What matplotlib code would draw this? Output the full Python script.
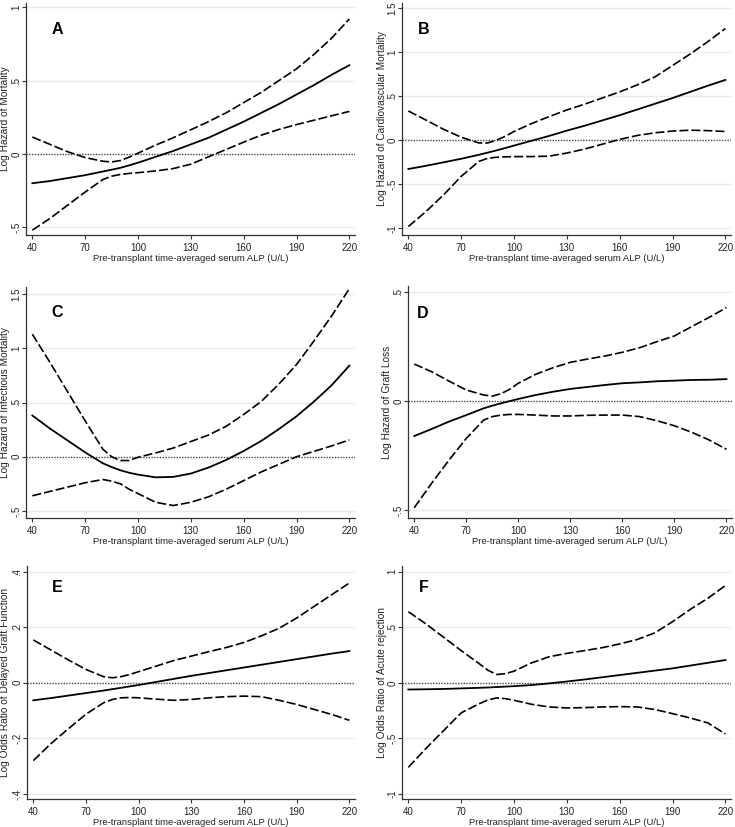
import matplotlib
matplotlib.use("Agg")
import matplotlib.pyplot as plt

plt.rcParams['font.family'] = ['Liberation Sans', 'DejaVu Sans']

W, H = 735, 827

alp = [40, 50, 60, 70, 80, 85, 90, 95, 100, 110, 120, 130, 140, 150, 160, 170, 180, 190, 200, 210, 220]

# Panel A: Mortality
a_est = [-0.20, -0.185, -0.165, -0.145, -0.12, -0.108, -0.095, -0.078, -0.06, -0.02, 0.02, 0.065, 0.11, 0.165, 0.22, 0.28, 0.34, 0.405, 0.47, 0.54, 0.605]
a_hi = [0.115, 0.065, 0.015, -0.025, -0.05, -0.055, -0.045, -0.022, 0.005, 0.06, 0.11, 0.165, 0.22, 0.28, 0.35, 0.42, 0.50, 0.58, 0.68, 0.79, 0.92]
a_lo = [-0.52, -0.44, -0.35, -0.26, -0.175, -0.152, -0.14, -0.133, -0.128, -0.116, -0.10, -0.07, -0.02, 0.03, 0.08, 0.128, 0.167, 0.20, 0.23, 0.26, 0.29]

# Panel B: Cardiovascular mortality
b_est = [-0.326, -0.29, -0.25, -0.21, -0.165, -0.14, -0.115, -0.088, -0.06, -0.005, 0.05, 0.11, 0.165, 0.225, 0.285, 0.35, 0.415, 0.48, 0.55, 0.62, 0.686]
b_hi = [0.333, 0.23, 0.125, 0.035, -0.03, -0.03, 0.0, 0.045, 0.10, 0.19, 0.27, 0.345, 0.41, 0.48, 0.55, 0.63, 0.72, 0.85, 0.98, 1.12, 1.27]
b_lo = [-0.98, -0.81, -0.62, -0.41, -0.24, -0.205, -0.193, -0.188, -0.185, -0.185, -0.18, -0.145, -0.10, -0.045, 0.01, 0.055, 0.085, 0.105, 0.115, 0.11, 0.10]

# Panel C: Infectious mortality
c_est = [0.38, 0.26, 0.15, 0.04, -0.06, -0.095, -0.125, -0.148, -0.165, -0.19, -0.186, -0.155, -0.10, -0.03, 0.053, 0.146, 0.255, 0.373, 0.51, 0.66, 0.84]
c_hi = [1.13, 0.87, 0.60, 0.33, 0.07, 0.0, -0.035, -0.035, -0.005, 0.035, 0.08, 0.14, 0.20, 0.28, 0.39, 0.51, 0.67, 0.85, 1.07, 1.30, 1.55]
c_lo = [-0.36, -0.32, -0.28, -0.24, -0.21, -0.225, -0.25, -0.30, -0.34, -0.42, -0.45, -0.42, -0.37, -0.30, -0.22, -0.14, -0.07, 0.0, 0.05, 0.10, 0.155]

# Panel D: Graft loss
d_est = [-0.159, -0.127, -0.093, -0.063, -0.032, -0.02, -0.009, 0.001, 0.011, 0.029, 0.044, 0.057, 0.066, 0.075, 0.083, 0.087, 0.092, 0.095, 0.098, 0.099, 0.102]
d_hi = [0.171, 0.136, 0.093, 0.052, 0.029, 0.024, 0.035, 0.055, 0.083, 0.124, 0.154, 0.179, 0.194, 0.208, 0.225, 0.246, 0.274, 0.30, 0.343, 0.385, 0.43]
d_lo = [-0.488, -0.376, -0.27, -0.17, -0.086, -0.07, -0.063, -0.06, -0.06, -0.063, -0.067, -0.067, -0.064, -0.063, -0.063, -0.07, -0.089, -0.112, -0.142, -0.177, -0.22]

# Panel E: Delayed graft function
e_est = [-0.063, -0.055, -0.046, -0.037, -0.028, -0.023, -0.018, -0.013, -0.008, 0.003, 0.014, 0.025, 0.035, 0.045, 0.055, 0.065, 0.075, 0.085, 0.095, 0.105, 0.114]
e_hi = [0.154, 0.118, 0.082, 0.048, 0.022, 0.018, 0.022, 0.03, 0.04, 0.06, 0.08, 0.096, 0.112, 0.127, 0.145, 0.169, 0.196, 0.233, 0.275, 0.317, 0.359]
e_lo = [-0.28, -0.219, -0.165, -0.113, -0.072, -0.06, -0.054, -0.053, -0.054, -0.059, -0.063, -0.06, -0.054, -0.05, -0.048, -0.05, -0.063, -0.078, -0.096, -0.114, -0.135]

# Panel F: Acute rejection
f_est = [-0.06, -0.058, -0.055, -0.05, -0.045, -0.042, -0.038, -0.034, -0.03, -0.02, -0.005, 0.012, 0.03, 0.05, 0.07, 0.09, 0.11, 0.13, 0.155, 0.18, 0.205]
f_hi = [0.64, 0.53, 0.41, 0.29, 0.175, 0.115, 0.075, 0.082, 0.105, 0.18, 0.235, 0.265, 0.29, 0.316, 0.35, 0.39, 0.45, 0.55, 0.66, 0.76, 0.875]
f_lo = [-0.76, -0.59, -0.43, -0.27, -0.19, -0.155, -0.136, -0.142, -0.157, -0.193, -0.217, -0.226, -0.223, -0.217, -0.214, -0.217, -0.24, -0.277, -0.316, -0.36, -0.46]

x_ticks = [40, 70, 100, 130, 160, 190, 220]
x_label = "Pre-transplant time-averaged serum ALP (U/L)"

panel_letters = ["A", "B", "C", "D", "E", "F"]
y_labels = ["Log Hazard of Mortality", "Log Hazard of Cardiovascular Mortality",
            "Log Hazard of Infectious Mortality", "Log Hazard of Graft Loss",
            "Log Odds Ratio of Delayed Graft Function", "Log Odds Ratio of Acute rejection"]
y_ticks = [[-0.5, 0, 0.5, 1], [-1, -0.5, 0, 0.5, 1, 1.5], [-0.5, 0, 0.5, 1, 1.5],
           [-0.5, 0, 0.5], [-0.4, -0.2, 0, 0.2, 0.4], [-1, -0.5, 0, 0.5, 1]]
y_tick_labels = [["-.5", "0", ".5", "1"], ["-1", "-.5", "0", ".5", "1", "1.5"],
                 ["-.5", "0", ".5", "1", "1.5"], ["-.5", "0", ".5"],
                 ["-.4", "-.2", "0", ".2", ".4"], ["-1", "-.5", "0", ".5", "1"]]

series = [(a_est, a_hi, a_lo), (b_est, b_hi, b_lo), (c_est, c_hi, c_lo),
          (d_est, d_hi, d_lo), (e_est, e_hi, e_lo), (f_est, f_hi, f_lo)]

# layout (pixels): left, right, top, bottom ; y limits
boxes = [(26, 355, 3, 235), (402, 731, 3, 235), (26, 355, 287, 518),
         (408, 732, 286, 518), (27, 355, 566, 799), (402, 731, 566, 799)]
ylims = [(-0.553, 1.029), (-1.076, 1.56), (-0.565, 1.565), (-0.535, 0.529),
         (-0.418, 0.42), (-1.045, 1.051)]
ylabel_x = [5, 382, 5, 387, 5, 382]
letter_pos = [(57, 30), (424, 30), (57, 312), (423, 313), (57, 587), (424, 588)]

fig = plt.figure(figsize=(W / 100, H / 100), dpi=100)
fig.patch.set_facecolor("white")

dash = (0, (5.4, 1.8))
for i in range(6):
    l, r, t, b = boxes[i]
    ax = fig.add_axes([l / W, 1 - b / H, (r - l) / W, (b - t) / H])
    est, hi, lo = series[i]
    for yv in y_ticks[i]:
        if yv != 0:
            ax.axhline(yv, color="#e9e9e9", lw=1.0, zorder=0)
    ax.axhline(0, color="#444444", lw=1.0, linestyle=(0, (1, 1)), zorder=1)
    ax.plot(alp, est, color="black", lw=1.3, zorder=3)
    ax.plot(alp, hi, color="black", lw=1.2, linestyle=dash, zorder=3)
    ax.plot(alp, lo, color="black", lw=1.2, linestyle=dash, zorder=3)
    ax.set_xlim(36.4, 223.2)
    ax.set_ylim(*ylims[i])
    ax.set_xticks(x_ticks)
    ax.set_xticklabels([str(v) for v in x_ticks], fontsize=7.0)
    ax.set_yticks(y_ticks[i])
    ax.set_yticklabels(y_tick_labels[i], fontsize=7.0, rotation=90, va="center")
    for s in ["top", "right"]:
        ax.spines[s].set_visible(False)
    for s in ["left", "bottom"]:
        ax.spines[s].set_color("#333333")
        ax.spines[s].set_linewidth(0.9)
    ax.tick_params(length=2.9, width=0.8, color="#333333", labelcolor="#222222")
    ax.tick_params(axis="y", pad=0.3)
    ax.tick_params(axis="x", pad=3.0)
    ax.set_xlabel(x_label, fontsize=6.8, labelpad=0.5, color="#222222")
    ax.set_ylabel(y_labels[i], fontsize=7.3, color="#222222", va="center")
    ax.yaxis.set_label_coords((ylabel_x[i] - l) / (r - l), 0.5)
    ax.set_facecolor("white")
    lx, ly = letter_pos[i]
    fig.text(lx / W, 1 - ly / H, panel_letters[i], fontsize=11.5, fontweight="bold",
             ha="center", va="center")

fig.savefig("out.png", dpi=100, facecolor="white")
